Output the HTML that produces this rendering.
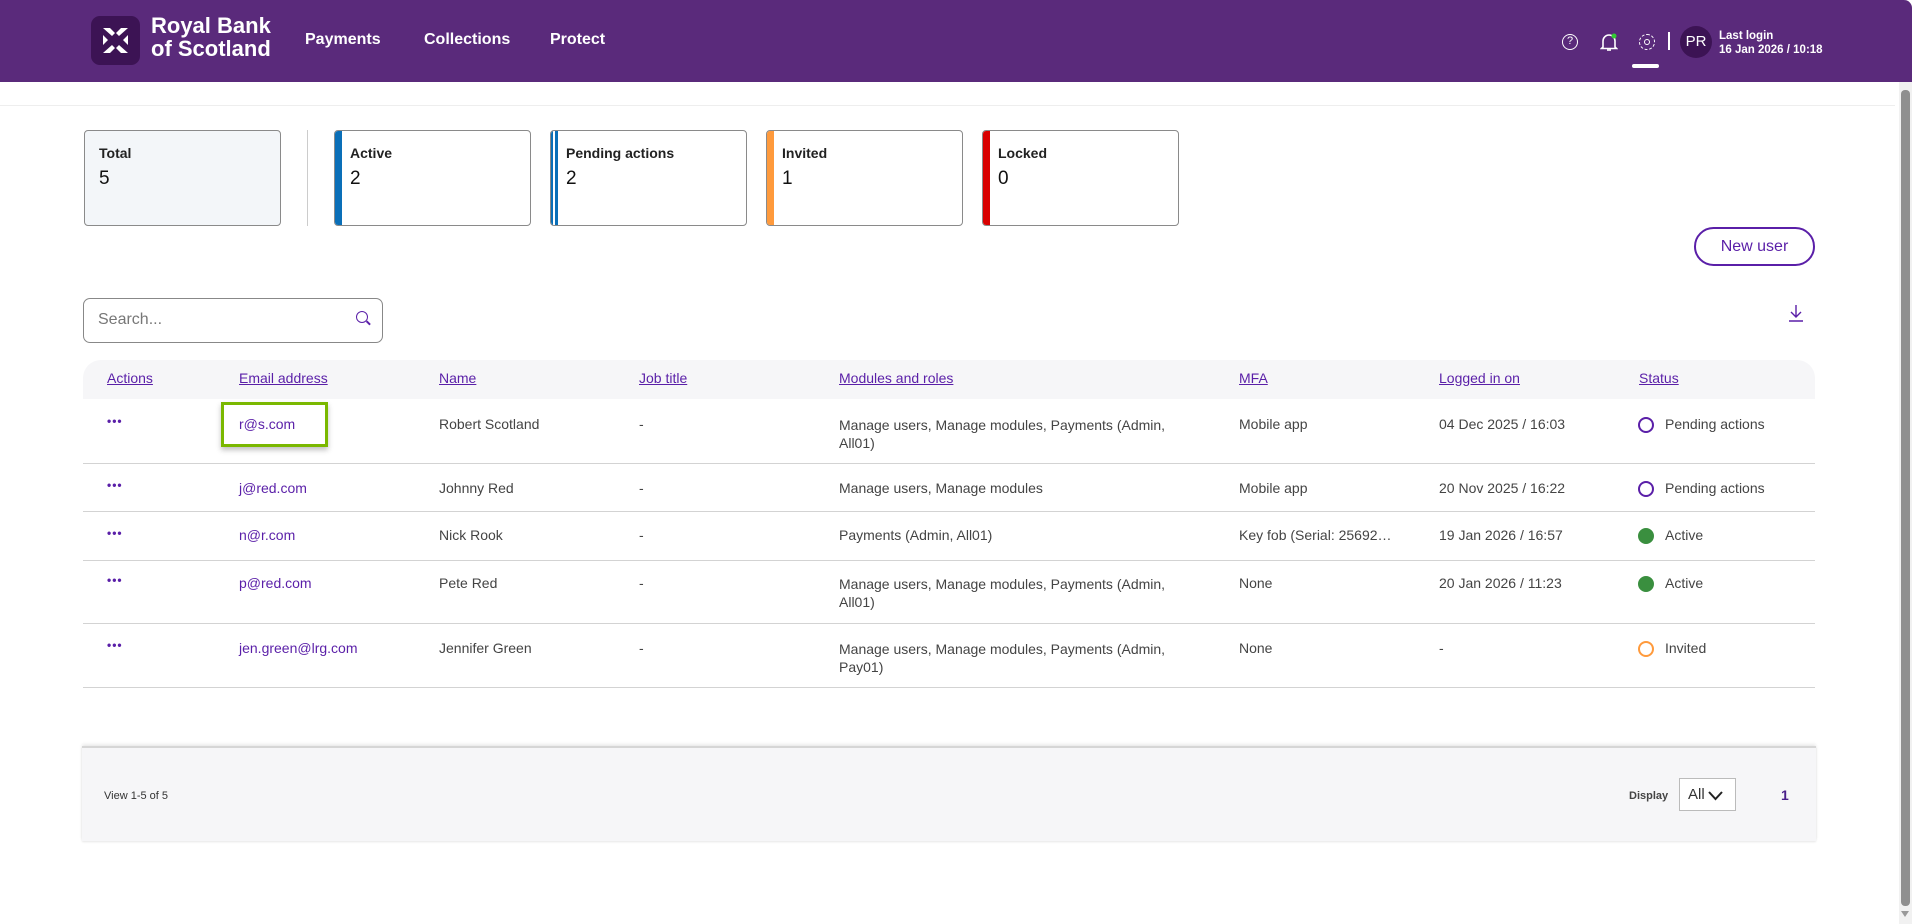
<!DOCTYPE html>
<html><head><meta charset="utf-8"><style>
*{box-sizing:border-box;margin:0;padding:0}
body{width:1912px;height:924px;position:relative;overflow:hidden;background:#fff;font-family:"Liberation Sans",sans-serif;color:#444}
.a{position:absolute;white-space:nowrap}
.hdr{position:absolute;left:0;top:0;width:1912px;height:82px;background:#5a2a7b;border-top-right-radius:8px}
.nav{color:#fff;font-weight:bold;font-size:16px;top:31px}
.card{position:absolute;top:130px;width:197px;height:96px;border:1px solid #8a8a8a;border-radius:4px;background:#fff;overflow:hidden}
.card .l{position:absolute;left:14px;top:14px;font-size:14px;font-weight:bold;color:#222}
.card .n{position:absolute;left:14px;top:37px;font-size:19px;color:#111}
.card .bar{position:absolute;left:0;top:0;bottom:0;width:7px}
.th{top:370px;font-size:14px;color:#5a1fa8;text-decoration:underline}
.td{font-size:14px;color:#444}
.em{font-size:14px;color:#5a1fa8}
.dots{font-size:12px;color:#5a1fa8;font-weight:bold;letter-spacing:1px}
.sep{position:absolute;left:83px;width:1732px;height:1px;background:#d3d3d3}
.ring{position:absolute;width:16px;height:16px;border-radius:50%;border:2px solid #5a1fa8}
</style></head><body>
<div class="hdr"></div>
<div class="a" style="left:91px;top:16px;width:49px;height:49px;background:#3c1354;border-radius:9px"></div>
<svg class="a" style="left:100px;top:25px" width="31" height="31" viewBox="0 0 31 31" fill="#fff">
<path d="M3 3h7l5 5-3 3-9-8zM28 3h-7l-5 5 3 3 9-8zM3 28h7l5-5-3-3-9 8zM28 28h-7l-5-5 3-3 9 8z"/>
<path d="M3 10l5 5-5 5zM28 10l-5 5 5 5z"/></svg>
<div class="a" style="left:151px;top:14px;color:#fff;font-size:22px;line-height:23px;font-weight:bold">Royal Bank<br>of Scotland</div>
<div class="a nav" style="left:305px">Payments</div>
<div class="a nav" style="left:424px">Collections</div>
<div class="a nav" style="left:550px">Protect</div>
<div class="a" style="left:1562px;top:34px;width:16px;height:16px;border:1.5px solid #fff;border-radius:50%;color:#fff;font-size:11px;text-align:center;line-height:13px">?</div>
<svg class="a" style="left:1600px;top:32px" width="18" height="20" viewBox="0 0 18 20" fill="none" stroke="#fff" stroke-width="1.6"><path d="M3 15V9a6 6 0 0 1 12 0v6l1.5 1.5h-15z"/><path d="M7 18h4"/><circle cx="14" cy="4" r="2.5" fill="#3c3" stroke="none"/></svg>
<div class="a" style="left:1639px;top:34px;width:16px;height:16px;border:1.5px dashed #fff;border-radius:50%"></div>
<div class="a" style="left:1644px;top:39px;width:6px;height:6px;border:1.5px solid #fff;border-radius:50%"></div>
<div class="a" style="left:1632px;top:64px;width:27px;height:4px;background:#fff;border-radius:2px"></div>
<div class="a" style="left:1668px;top:32px;width:2px;height:18px;background:#fff"></div>
<div class="a" style="left:1680px;top:26px;width:32px;height:32px;border-radius:50%;background:#3c1354;color:#fff;font-size:15px;text-align:center;line-height:32px">PR</div>
<div class="a" style="left:1719px;top:29px;color:#fff;font-size:11.5px;font-weight:bold;line-height:14px">Last login<br>16 Jan 2026 / 10:18</div>
<div class="a" style="left:0;top:105px;width:1895px;height:1px;background:#eee"></div>

<div class="card" style="left:84px;background:#f3f6f9"><div class="l">Total</div><div class="n">5</div></div>
<div class="a" style="left:307px;top:130px;width:1px;height:96px;background:#ccc"></div>
<div class="card" style="left:334px"><div class="bar" style="background:#0a6fb8"></div><div class="l" style="left:15px">Active</div><div class="n" style="left:15px">2</div></div>
<div class="card" style="left:550px"><div class="bar" style="width:2px;background:#0a6fb8"></div><div class="bar" style="left:4px;width:3px;background:#0a6fb8"></div><div class="l" style="left:15px">Pending actions</div><div class="n" style="left:15px">2</div></div>
<div class="card" style="left:766px"><div class="bar" style="background:#ff9a3c"></div><div class="l" style="left:15px">Invited</div><div class="n" style="left:15px">1</div></div>
<div class="card" style="left:982px"><div class="bar" style="background:#d90000"></div><div class="l" style="left:15px">Locked</div><div class="n" style="left:15px">0</div></div>

<div class="a" style="left:1694px;top:227px;width:121px;height:39px;border:2px solid #5a1fa8;border-radius:20px;color:#5a1fa8;font-size:16px;text-align:center;line-height:35px">New user</div>

<div class="a" style="left:83px;top:298px;width:300px;height:45px;border:1px solid #888;border-radius:7px"></div>
<div class="a" style="left:98px;top:311px;font-size:16px;color:#777">Search...</div>
<div class="a" style="left:356px;top:311px;width:12px;height:12px;border:1.5px solid #5a1fa8;border-radius:50%"></div>
<div class="a" style="left:366px;top:322px;width:5px;height:1.5px;background:#5a1fa8;transform:rotate(45deg)"></div>
<svg class="a" style="left:1788px;top:304px" width="16" height="18" viewBox="0 0 16 18" fill="none" stroke="#5a1fa8" stroke-width="1.4"><path d="M8 1v12M3 8l5 5 5-5M1 17h14"/></svg>

<div class="a" style="left:83px;top:360px;width:1732px;height:39px;background:#f6f6f8;border-radius:18px 18px 0 0"></div>
<div class="a th" style="left:107px">Actions</div>
<div class="a th" style="left:239px">Email address</div>
<div class="a th" style="left:439px">Name</div>
<div class="a th" style="left:639px">Job title</div>
<div class="a th" style="left:839px">Modules and roles</div>
<div class="a th" style="left:1239px">MFA</div>
<div class="a th" style="left:1439px">Logged in on</div>
<div class="a th" style="left:1639px">Status</div>

<div class="a" style="left:221px;top:402px;width:107px;height:45px;border:3px solid #7ab800;box-shadow:0 3px 5px rgba(0,0,0,.25)"></div>

<!-- row1 -->
<div class="a dots" style="left:107px;top:414px">•••</div>
<div class="a em" style="left:239px;top:416px">r@s.com</div>
<div class="a td" style="left:439px;top:416px">Robert Scotland</div>
<div class="a td" style="left:639px;top:416px">-</div>
<div class="a td" style="left:839px;top:416px;line-height:18px">Manage users, Manage modules, Payments (Admin,<br>All01)</div>
<div class="a td" style="left:1239px;top:416px">Mobile app</div>
<div class="a td" style="left:1439px;top:416px">04 Dec 2025 / 16:03</div>
<div class="ring" style="left:1638px;top:417px"></div>
<div class="a td" style="left:1665px;top:416px">Pending actions</div>
<div class="sep" style="top:463px"></div>
<!-- row2 -->
<div class="a dots" style="left:107px;top:478px">•••</div>
<div class="a em" style="left:239px;top:480px">j@red.com</div>
<div class="a td" style="left:439px;top:480px">Johnny Red</div>
<div class="a td" style="left:639px;top:480px">-</div>
<div class="a td" style="left:839px;top:480px">Manage users, Manage modules</div>
<div class="a td" style="left:1239px;top:480px">Mobile app</div>
<div class="a td" style="left:1439px;top:480px">20 Nov 2025 / 16:22</div>
<div class="ring" style="left:1638px;top:481px"></div>
<div class="a td" style="left:1665px;top:480px">Pending actions</div>
<div class="sep" style="top:511px"></div>
<!-- row3 -->
<div class="a dots" style="left:107px;top:526px">•••</div>
<div class="a em" style="left:239px;top:527px">n@r.com</div>
<div class="a td" style="left:439px;top:527px">Nick Rook</div>
<div class="a td" style="left:639px;top:527px">-</div>
<div class="a td" style="left:839px;top:527px">Payments (Admin, All01)</div>
<div class="a td" style="left:1239px;top:527px">Key fob (Serial: 25692…</div>
<div class="a td" style="left:1439px;top:527px">19 Jan 2026 / 16:57</div>
<div class="ring" style="left:1638px;top:528px;background:#3a8f3f;border-color:#3a8f3f"></div>
<div class="a td" style="left:1665px;top:527px">Active</div>
<div class="sep" style="top:560px"></div>
<!-- row4 -->
<div class="a dots" style="left:107px;top:573px">•••</div>
<div class="a em" style="left:239px;top:575px">p@red.com</div>
<div class="a td" style="left:439px;top:575px">Pete Red</div>
<div class="a td" style="left:639px;top:575px">-</div>
<div class="a td" style="left:839px;top:575px;line-height:18px">Manage users, Manage modules, Payments (Admin,<br>All01)</div>
<div class="a td" style="left:1239px;top:575px">None</div>
<div class="a td" style="left:1439px;top:575px">20 Jan 2026 / 11:23</div>
<div class="ring" style="left:1638px;top:576px;background:#3a8f3f;border-color:#3a8f3f"></div>
<div class="a td" style="left:1665px;top:575px">Active</div>
<div class="sep" style="top:623px"></div>
<!-- row5 -->
<div class="a dots" style="left:107px;top:638px">•••</div>
<div class="a em" style="left:239px;top:640px">jen.green@lrg.com</div>
<div class="a td" style="left:439px;top:640px">Jennifer Green</div>
<div class="a td" style="left:639px;top:640px">-</div>
<div class="a td" style="left:839px;top:640px;line-height:18px">Manage users, Manage modules, Payments (Admin,<br>Pay01)</div>
<div class="a td" style="left:1239px;top:640px">None</div>
<div class="a td" style="left:1439px;top:640px">-</div>
<div class="ring" style="left:1638px;top:641px;border-color:#ff9a3c"></div>
<div class="a td" style="left:1665px;top:640px">Invited</div>
<div class="sep" style="top:687px"></div>

<div class="a" style="left:82px;top:746px;width:1734px;height:95px;background:#f6f6f8;border-top:2px solid #d6d6d6;box-shadow:0 -2px 3px rgba(0,0,0,.08),0 1px 2px rgba(0,0,0,.1)"></div>
<div class="a" style="left:104px;top:790px;font-size:11px;color:#333">View 1-5 of 5</div>
<div class="a" style="left:1629px;top:790px;font-size:11px;color:#444;font-weight:bold">Display</div>
<div class="a" style="left:1679px;top:778px;width:57px;height:33px;border:1px solid #bbb;background:#fff;font-size:15px;color:#333;padding:7px 0 0 8px">All</div>
<svg class="a" style="left:1708px;top:791px" width="15" height="10" viewBox="0 0 15 10" fill="none" stroke="#222" stroke-width="2"><path d="M1 1l6.5 7L14 1"/></svg>
<div class="a" style="left:1781px;top:787px;font-size:14px;font-weight:bold;color:#4a1f8a">1</div>

<div class="a" style="left:1899px;top:82px;width:13px;height:842px;background:#f1f1f1"></div>
<div class="a" style="left:1901px;top:90px;width:9px;height:816px;background:#8f8f8f;border-radius:4px"></div>
<div class="a" style="left:1901px;top:911px;width:0;height:0;border-left:4px solid transparent;border-right:4px solid transparent;border-top:6px solid #999"></div>
</body></html>
